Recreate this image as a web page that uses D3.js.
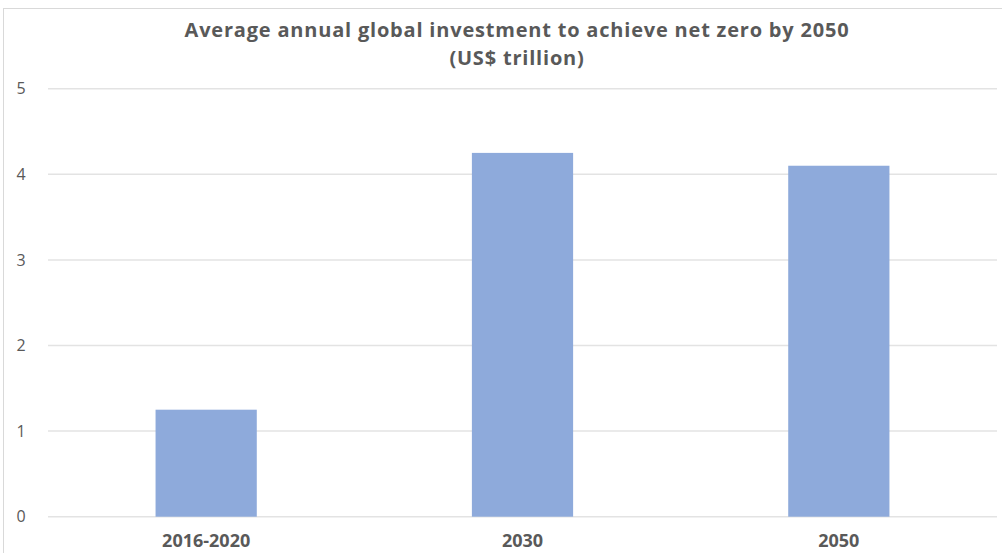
<!DOCTYPE html>
<html>
    <head>
        <script src="https://d3js.org/d3.v7.min.js"></script>
        <style>
            body { margin: 0; background: #fff; }
            text { font-family: "Open Sans", "Noto Sans", sans-serif; fill: #595959; }
        </style>
    </head>
    <body>
        <svg width="1002" height="553"></svg>
        <script>
            // data
            const categories = ["2016-2020", "2030", "2050"];
            const values = [1.25, 4.25, 4.1];
            const yTicks = [0, 1, 2, 3, 4, 5];
            const titleLines = ["Average annual global investment to achieve net zero by 2050", "(US$ trillion)"];

            const svg = d3.select("svg");
            const width = +svg.attr("width");
            const height = +svg.attr("height");

            // chart frame
            svg.append("rect")
                .attr("x", 3.5).attr("y", 8.5)
                .attr("width", width + 10).attr("height", height + 10)
                .attr("fill", "none")
                .attr("stroke", "#d9d9d9");

            const x = d3.scaleBand()
                .domain(categories)
                .range([48, 997])
                .paddingInner(0.68)
                .paddingOuter(0.34);

            const y = d3.scaleLinear()
                .domain([0, 5])
                .range([516.7, 88.7]);

            // gridlines
            svg.append("g")
                .selectAll("line")
                .data(yTicks)
                .join("line")
                .attr("x1", 48).attr("x2", 997)
                .attr("y1", d => y(d)).attr("y2", d => y(d))
                .attr("stroke", "#e3e3e3")
                .attr("stroke-width", 1.5);

            // y labels
            svg.append("g")
                .selectAll("text")
                .data(yTicks)
                .join("text")
                .attr("x", 21)
                .attr("y", d => y(d))
                .attr("dy", "0.36em")
                .attr("text-anchor", "middle")
                .attr("font-size", 16)
                .text(d => d);

            // bars
            svg.append("g")
                .selectAll("rect")
                .data(values)
                .join("rect")
                .attr("x", (d, i) => x(categories[i]))
                .attr("y", d => y(d))
                .attr("width", x.bandwidth())
                .attr("height", d => y(0) - y(d))
                .attr("fill", "#8eaadb");

            // x labels
            svg.append("g")
                .selectAll("text")
                .data(categories)
                .join("text")
                .attr("x", d => x(d) + x.bandwidth() / 2)
                .attr("y", 547)
                .attr("text-anchor", "middle")
                .attr("font-size", 18)
                .attr("font-weight", "bold")
                .text(d => d);

            // title
            svg.append("g")
                .selectAll("text")
                .data(titleLines)
                .join("text")
                .attr("x", 517)
                .attr("y", (d, i) => 37 + i * 28)
                .attr("text-anchor", "middle")
                .attr("font-size", 20)
                .attr("letter-spacing", 0.8)
                .attr("font-weight", "bold")
                .text(d => d);
        </script>
    </body>
</html>
